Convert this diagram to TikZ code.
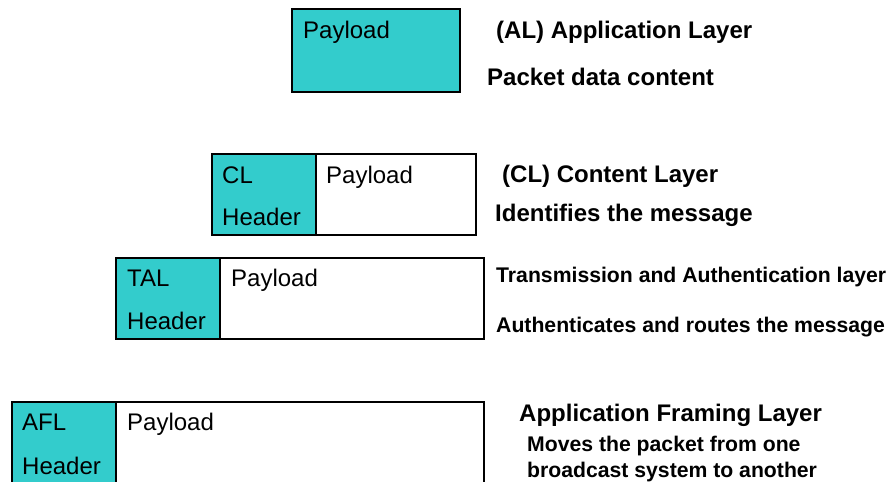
\documentclass[tikz,border=0pt]{standalone}
\usepackage{fontspec}
\setmainfont{Liberation Sans}
\definecolor{tealfill}{HTML}{33CCCC}
\begin{document}
\begin{tikzpicture}[x=1pt,y=1pt,
  box/.style={draw=black, line width=1.5pt, inner sep=0pt, outer sep=0pt, anchor=north west, fill=white},
  hdr/.style={box, fill=tealfill},
  lbl/.style={anchor=base west, inner sep=0pt, font=\fontsize{24}{28}\selectfont},
  desc/.style={anchor=base west, inner sep=0pt, font=\fontsize{24}{28}\selectfont\bfseries},
  descs/.style={anchor=base west, inner sep=0pt, font=\fontsize{21.2}{25}\selectfont\bfseries}]
\useasboundingbox (0,0) rectangle (892,482);
\clip (0,0) rectangle (892,482);
% AL
\node[hdr, minimum width=168pt, minimum height=83pt] (alpay) at (292,473) {};
\node[lbl] (altxt) at (303,443) {Payload};
\node[desc] (altitle) at (496,443) {(AL) Application Layer};
\node[desc] (aldesc) at (487,396) {Packet data content};
% CL
\node[hdr, minimum width=104pt, minimum height=81pt] (clhdr) at (212,328) {};
\node[box, minimum width=160pt, minimum height=81pt] (clpay) at (316,328) {};
\node[lbl] (clt1) at (222,298) {CL};
\node[lbl] (clt2) at (222,256) {Header};
\node[lbl] (clt3) at (326,298) {Payload};
\node[desc] (cltitle) at (502,299) {(CL) Content Layer};
\node[desc] (cldesc) at (495,260) {Identifies the message};
% TAL
\node[hdr, minimum width=104pt, minimum height=81pt] (talhdr) at (116,224) {};
\node[box, minimum width=264pt, minimum height=81pt] (talpay) at (220,224) {};
\node[lbl] (talt1) at (127,195) {TAL};
\node[lbl] (talt2) at (127,152) {Header};
\node[lbl] (talt3) at (231,195) {Payload};
\node[descs] (taltitle) at (496,199) {Transmission and Authentication layer};
\node[descs] (taldesc) at (496,149) {Authenticates and routes the message};
% AFL
\node[hdr, minimum width=104pt, minimum height=100pt] (aflhdr) at (12,80) {};
\node[box, minimum width=368pt, minimum height=100pt] (aflpay) at (116,80) {};
\node[lbl] (aflt1) at (22,51) {AFL};
\node[lbl] (aflt2) at (22,7) {Header};
\node[lbl] (aflt3) at (127,51) {Payload};
\node[desc] (afltitle) at (519,60) {Application Framing Layer};
\node[descs] (afldesc1) at (527,30) {Moves the packet from one};
\node[descs] (afldesc2) at (527,4) {broadcast system to another};
\end{tikzpicture}
\end{document}
